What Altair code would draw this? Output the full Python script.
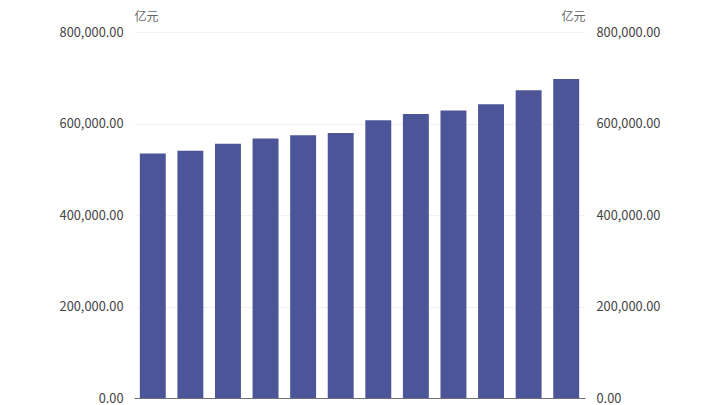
import altair as alt
import pandas as pd

categories = ["1", "2", "3", "4", "5", "6", "7", "8", "9", "10", "11", "12"]
values = [534500, 540200, 555500, 567200, 574500, 579500,
          607200, 621000, 628400, 642100, 672700, 697400]
y_ticks = [0, 200000, 400000, 600000, 800000]

df = pd.DataFrame({"cat": categories, "value": values})

FONT = "Noto Sans CJK SC"
LABEL_COLOR = "#444444"
TITLE_COLOR = "#666666"

x_enc = alt.X("cat:N", sort=categories,
              scale=alt.Scale(paddingInner=0.31, paddingOuter=0.155),
              axis=alt.Axis(title=None, labels=False, ticks=False,
                            domain=True, domainColor="#6e7079", domainWidth=1,
                            grid=False))

def y_axis(orient, align, grid):
    return alt.Axis(orient=orient, values=y_ticks, format=",.2f",
                    title="亿元", titleAngle=0, titleX=0, titleY=-21,
                    titleAlign=align, titleBaseline="top",
                    titleFont=FONT, titleFontSize=12, titleFontWeight="normal",
                    titleColor=TITLE_COLOR,
                    labelFont=FONT, labelFontSize=12.8, labelColor=LABEL_COLOR,
                    labelPadding=11, ticks=False, domain=False,
                    grid=grid, gridColor="#f2f2f2", gridWidth=1)

left = alt.Chart(df).mark_bar(color="#4b5597").encode(
    x=x_enc,
    y=alt.Y("value:Q", scale=alt.Scale(domain=[0, 800000]),
            axis=y_axis("left", "left", True)),
)

right = alt.Chart(df).mark_bar(opacity=0).encode(
    x=x_enc,
    y=alt.Y("value:Q", scale=alt.Scale(domain=[0, 800000]),
            axis=y_axis("right", "right", False)),
)

chart = alt.layer(left, right).resolve_scale(y="independent").properties(
    width=451, height=366,
    autosize=alt.AutoSizeParams(type="none"),
    padding={"left": 126, "top": 24, "right": 120, "bottom": 10},
).configure_view(stroke=None)

chart.save("out.html", embed_options={"renderer": "svg", "actions": False})
